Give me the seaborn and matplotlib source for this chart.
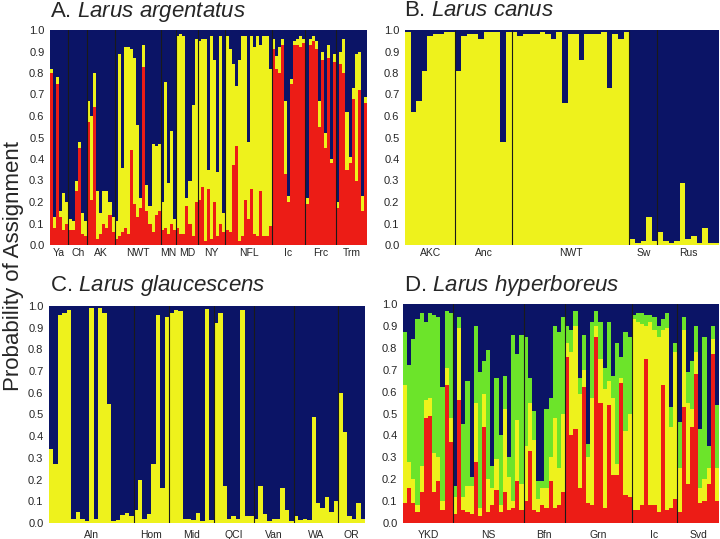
import numpy as np
import pandas as pd
import seaborn as sns
import matplotlib.pyplot as plt

NAVY = "#0b1466"
YELLOW = "#eef21c"
RED = "#ec1c16"
GREEN = "#6ce42a"

# %% Data: cumulative tops of each cluster per individual, grouped by population
# A. Larus argentatus (red bottom, yellow above, blue remainder)
a_pops = ["Ya", "Ch", "AK", "NWT", "MN", "MD", "NY", "NFL", "Ic", "Frc", "Trm"]
a_red = [
    [0.80, 0.08, 0.75, 0.13, 0.07, 0.10],
    [0.07, 0.07, 0.25, 0.45, 0.05, 0.04],
    [0.57, 0.21, 0.64, 0.03, 0.05, 0.10, 0.08, 0.14, 0.06],
    [0.03, 0.04, 0.06, 0.08, 0.05, 0.44, 0.19, 0.13, 0.17, 0.83, 0.16, 0.10, 0.06, 0.14, 0.16],
    [0.07, 0.08, 0.05, 0.10, 0.07],
    [0.08, 0.05, 0.05, 0.18, 0.10, 0.04, 0.20],
    [0.21, 0.27, 0.02, 0.26, 0.03, 0.20, 0.04, 0.10, 0.06],
    [0.07, 0.06, 0.37, 0.46, 0.02, 0.04, 0.21, 0.12, 0.26, 0.05, 0.04, 0.25, 0.04, 0.04, 0.09],
    [0.91, 0.82, 0.80, 0.93, 0.33, 0.20, 0.75, 0.93, 0.93, 0.92, 0.94],
    [0.19, 0.93, 0.95, 0.91, 0.55, 0.86, 0.45, 0.87, 0.38, 0.85],
    [0.17, 0.84, 0.80, 0.35, 0.38, 0.68, 0.30, 0.72, 0.16, 0.66],
]
a_yellow = [
    [0.82, 0.13, 0.78, 0.16, 0.24, 0.20],
    [0.12, 0.11, 0.30, 0.48, 0.15, 0.11],
    [0.67, 0.60, 0.80, 0.25, 0.15, 0.25, 0.25, 0.20, 0.13],
    [0.11, 0.89, 0.36, 0.92, 0.92, 0.91, 0.87, 0.56, 0.22, 0.93, 0.28, 0.18, 0.47, 0.46, 0.47],
    [0.20, 0.76, 0.29, 0.53, 0.12],
    [0.97, 0.98, 0.97, 0.22, 0.30, 0.65, 0.96],
    [0.95, 0.96, 0.96, 0.35, 0.97, 0.86, 0.34, 0.97, 0.15],
    [0.97, 0.91, 0.84, 0.74, 0.86, 0.97, 0.97, 0.48, 0.97, 0.92, 0.97, 0.93, 0.97, 0.97, 0.82],
    [0.96, 0.88, 0.92, 0.96, 0.67, 0.23, 0.77, 0.95, 0.96, 0.97, 0.96],
    [0.22, 0.96, 0.97, 0.95, 0.67, 0.90, 0.52, 0.93, 0.40, 0.89],
    [0.20, 0.90, 0.96, 0.62, 0.41, 0.73, 0.89, 0.90, 0.23, 0.69],
]

# B. Larus canus (yellow bottom, blue remainder)
b_pops = ["AKC", "Anc", "NWT", "Sw", "Rus"]
b_yellow = [
    [0.99, 0.62, 0.67, 0.81, 0.97, 0.98, 0.98, 0.99, 0.99],
    [0.81, 0.97, 0.98, 0.98, 0.96, 0.99, 0.99, 0.99, 0.48, 0.99],
    [0.99, 0.97, 0.98, 0.98, 0.98, 0.99, 0.98, 0.96, 0.99, 0.66, 0.98,
     0.98, 0.86, 0.98, 0.98, 0.98, 0.99, 0.73, 0.98, 0.96, 0.99],
    [0.03, 0.01, 0.02, 0.13, 0.02],
    [0.06, 0.02, 0.01, 0.02, 0.29, 0.03, 0.04, 0.01, 0.08, 0.01, 0.01],
]

# C. Larus glaucescens (yellow bottom, blue remainder)
c_pops = ["Aln", "Hom", "Mid", "QCI", "Van", "WA", "OR"]
c_yellow = [
    [0.34, 0.27, 0.96, 0.97, 0.98, 0.02, 0.05, 0.02, 0.01, 0.99,
     0.02, 0.99, 0.97, 0.55, 0.01, 0.015, 0.035, 0.045, 0.03],
    [0.06, 0.20, 0.02, 0.04, 0.27, 0.96, 0.16, 0.95],
    [0.97, 0.98, 0.975, 0.02, 0.02, 0.015, 0.045, 0.01, 0.985, 0.015],
    [0.92, 0.97, 0.17, 0.02, 0.03, 0.02, 0.98, 0.03, 0.03],
    [0.02, 0.17, 0.04, 0.01, 0.02, 0.02, 0.16, 0.06, 0.01],
    [0.03, 0.015, 0.02, 0.015, 0.49, 0.09, 0.07, 0.12, 0.05, 0.10],
    [0.60, 0.42, 0.03, 0.02, 0.09, 0.02],
]

# D. Larus hyperboreus (red, yellow, green, blue remainder)
d_pops = ["YKD", "NS", "Bfn", "Grn", "Ic", "Svd"]
d_red = [
    [0.09, 0.16, 0.09, 0.05, 0.14, 0.48, 0.49, 0.14, 0.19, 0.06, 0.63, 0.37],
    [0.04, 0.56, 0.06, 0.05, 0.04, 0.28, 0.03, 0.44, 0.05, 0.08, 0.15, 0.05, 0.14, 0.06, 0.07, 0.19, 0.06],
    [0.10, 0.33, 0.06, 0.05, 0.08, 0.07, 0.19, 0.07, 0.08, 0.14],
    [0.76, 0.40, 0.43, 0.16, 0.62, 0.09, 0.08, 0.85, 0.55, 0.07, 0.54, 0.22, 0.22, 0.64, 0.13, 0.12],
    [0.06, 0.06, 0.08, 0.75, 0.08, 0.08, 0.05, 0.63, 0.06, 0.07, 0.11],
    [0.05, 0.53, 0.18, 0.44, 0.68, 0.09, 0.10, 0.18, 0.77, 0.10],
]
d_yellow = [
    [0.63, 0.28, 0.20, 0.08, 0.26, 0.56, 0.57, 0.32, 0.30, 0.10, 0.71, 0.48],
    [0.12, 0.89, 0.12, 0.17, 0.17, 0.55, 0.07, 0.59, 0.20, 0.16, 0.29, 0.08, 0.52, 0.21, 0.10, 0.47, 0.18],
    [0.35, 0.55, 0.38, 0.11, 0.16, 0.16, 0.30, 0.48, 0.25, 0.50],
    [0.82, 0.78, 0.90, 0.59, 0.70, 0.30, 0.57, 0.90, 0.75, 0.61, 0.65, 0.57, 0.27, 0.66, 0.42, 0.50],
    [0.93, 0.92, 0.91, 0.90, 0.92, 0.88, 0.85, 0.88, 0.89, 0.44, 0.78],
    [0.25, 0.88, 0.55, 0.52, 0.78, 0.16, 0.20, 0.25, 0.84, 0.25],
]
d_green = [
    [0.87, 0.72, 0.84, 0.93, 0.96, 0.92, 0.96, 0.95, 0.94, 0.62, 0.97, 0.96],
    [0.17, 0.94, 0.45, 0.65, 0.21, 0.90, 0.69, 0.74, 0.79, 0.26, 0.66, 0.40, 0.67, 0.30, 0.86, 0.77, 0.86],
    [0.85, 0.66, 0.51, 0.19, 0.19, 0.52, 0.57, 0.90, 0.87, 0.94],
    [0.90, 0.88, 0.97, 0.66, 0.86, 0.36, 0.92, 0.97, 0.92, 0.71, 0.92, 0.67, 0.82, 0.76, 0.87, 0.85],
    [0.95, 0.96, 0.96, 0.95, 0.95, 0.94, 0.90, 0.93, 0.96, 0.53, 0.82],
    [0.46, 0.94, 0.69, 0.74, 0.90, 0.43, 0.85, 0.35, 0.90, 0.54],
]


def flat(groups):
    return sum(groups, [])


# %% Plot
sns.set_style("white")
plt.rcParams["font.family"] = ["Liberation Sans", "DejaVu Sans"]
plt.rcParams["mathtext.fontset"] = "custom"
plt.rcParams["mathtext.rm"] = "Liberation Sans"
plt.rcParams["mathtext.it"] = "Liberation Sans:italic"

fig = plt.figure(figsize=(7.2, 5.39), dpi=100)
W, H = 720, 539


def add_axes(x0, x1, ytop, ybot):
    return fig.add_axes([x0 / W, 1 - ybot / H, (x1 - x0) / W, (ybot - ytop) / H])


def structure(ax, pops, layers, label_pad):
    # layers: list of (grouped cumulative tops, colour), drawn top-most first
    sizes = [len(g) for g in layers[0][0]]
    n = sum(sizes)
    df = pd.DataFrame({"ind": np.arange(n), "top": 1.0})
    sns.barplot(data=df, x="ind", y="top", native_scale=True, width=1,
                color=NAVY, saturation=1, linewidth=0, antialiased=False,
                errorbar=None, ax=ax)
    for groups, col in layers:
        df["top"] = flat(groups)
        sns.barplot(data=df, x="ind", y="top", native_scale=True, width=1,
                    color=col, saturation=1, linewidth=0, antialiased=False,
                    errorbar=None, ax=ax)
    edges = np.cumsum(sizes)
    for e in edges[:-1]:
        ax.axvline(e - 0.5, color="#1a1a1a", lw=0.8)
    starts = edges - np.array(sizes)
    for p, s, e in zip(pops, starts, edges):
        ax.annotate(p, xy=((s + e - 1) / 2, 0), xycoords=("data", "axes fraction"),
                    xytext=(0, -label_pad), textcoords="offset pixels",
                    ha="center", va="center", fontsize=7.5)
    ax.set_xlim(-0.5, n - 0.5)
    ax.set_ylim(0, 1)
    ax.set_xticks([])
    ax.set_yticks(np.arange(0, 1.01, 0.1))
    ax.set_yticklabels([f"{v:.1f}" for v in np.arange(0, 1.01, 0.1)])
    ax.tick_params(axis="y", length=0, pad=4, labelsize=8)
    ax.set_xlabel("")
    ax.set_ylabel("")
    for sp in ax.spines.values():
        sp.set_visible(False)


axA = add_axes(50, 367, 30, 245)
structure(axA, a_pops, [(a_yellow, YELLOW), (a_red, RED)], 8)
axB = add_axes(405, 719, 30, 245)
structure(axB, b_pops, [(b_yellow, YELLOW)], 8)
axC = add_axes(49, 365, 306, 523)
structure(axC, c_pops, [(c_yellow, YELLOW)], 12)
axD = add_axes(403, 719, 304, 523)
structure(axD, d_pops, [(d_green, GREEN), (d_yellow, YELLOW), (d_red, RED)], 12)

titles = [(50, 12, r"A. $\it{Larus\ argentatus}$"),
          (404, 10, r"B. $\it{Larus\ canus}$"),
          (50, 285, r"C. $\it{Larus\ glaucescens}$"),
          (404, 285, r"D. $\it{Larus\ hyperboreus}$")]
for x, y, t in titles:
    fig.text(x / W, 1 - y / H, t, fontsize=16, ha="left", va="center")

fig.text(14 / W, 1 - 266 / H, "Probability of Assignment", rotation=90,
         fontsize=16, ha="center", va="center")

fig.savefig("out.png", dpi=100)
